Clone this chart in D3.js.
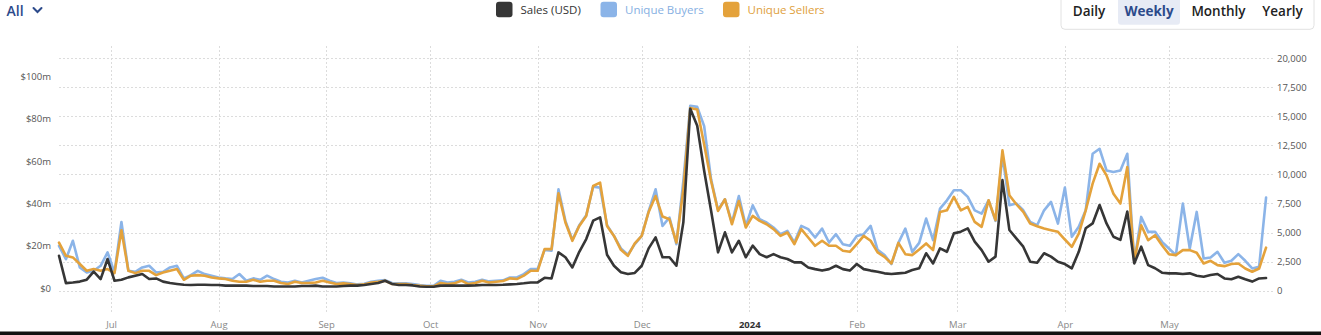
<!DOCTYPE html>
<html>
<head>
<meta charset="utf-8">
<script src="https://cdn.jsdelivr.net/npm/d3@7"></script>
<style>
  body { margin: 0; background: #fff; }
  svg  { display: block; font-family: 'Open Sans', sans-serif; }
</style>
</head>
<body>
<div id="chart"></div>
<script>
'use strict';

//#region data - one reading every second day from startDate
const startDate = new Date(2023, 5, 16);
const stepDays  = 2;

//unique sellers per day
const sellers = [
  4140, 3000, 2860, 2290, 1710, 1860, 1710, 1860, 1510, 5200,
  1710, 1510, 1710, 1710, 1340, 1570, 1710, 1860, 940, 1290,
  1340, 1290, 1140, 1060, 1000, 860, 770, 770, 940, 770,
  860, 860, 660, 570, 770, 660, 660, 710, 860, 710,
  570, 630, 570, 490, 540, 710, 770, 860, 570, 570,
  570, 490, 430, 370, 370, 660, 570, 630, 860, 570,
  660, 860, 710, 770, 830, 1060, 1000, 1290, 1710, 1710,
  3570, 3570, 8370, 5860, 4290, 5570, 6430, 9000, 9290, 5570,
  4710, 3510, 3000, 4060, 4710, 6770, 8140, 6370, 6140, 4140,
  8710, 15700, 15570, 12570, 9430, 6860, 7860, 5710, 7710, 5430,
  6430, 6000, 5710, 5290, 4710, 5000, 4000, 5290, 4570, 3860,
  4290, 3860, 3860, 3430, 3340, 4000, 4710, 4290, 3290, 2910,
  2340, 4110, 3140, 3060, 3540, 4060, 3490, 6770, 6910, 8060,
  6910, 7200, 5910, 5490, 7770, 6060, 12060, 8200, 7430, 6770,
  5770, 5540, 5340, 5200, 5060, 4400, 3770, 4910, 6910, 9200,
  10910, 9910, 8340, 7490, 10630, 2490, 5630, 4340, 4770, 3910,
  3140, 3060, 3490, 3490, 3260, 2340, 2570, 2200, 2110, 2290,
  2340, 1910, 1630, 1910, 3700
];

//unique buyers per day
const buyers = [
  3860, 2710, 4290, 2000, 1570, 1710, 2140, 3290, 1570, 5910,
  1710, 1630, 2000, 2140, 1570, 1630, 2000, 2140, 1060, 1340,
  1710, 1430, 1290, 1140, 1060, 1000, 1430, 860, 1060, 940,
  1290, 1000, 770, 710, 860, 710, 860, 1000, 1110, 860,
  660, 710, 630, 540, 600, 770, 860, 910, 660, 630,
  630, 570, 490, 430, 430, 860, 710, 770, 940, 710,
  770, 940, 800, 860, 890, 1140, 1140, 1430, 1860, 1860,
  3510, 3430, 8710, 6000, 4370, 5630, 6490, 8940, 8860, 5630,
  4710, 3630, 3090, 4000, 4710, 6830, 8710, 5570, 6290, 4000,
  9430, 15900, 15800, 14140, 9570, 6940, 7860, 5860, 8140, 5570,
  7340, 6140, 5860, 5430, 4860, 5140, 4140, 5570, 5290, 4570,
  5340, 4140, 4860, 4000, 3860, 4710, 4860, 5570, 3510, 3060,
  2290, 4110, 5340, 3340, 4110, 6200, 4340, 7060, 7770, 8630,
  8630, 8060, 6910, 6630, 7770, 6000, 11630, 7340, 7490, 6910,
  5910, 5630, 6910, 7630, 5770, 8860, 4630, 5490, 6910, 11770,
  12200, 10340, 10200, 10340, 11770, 2490, 6340, 5060, 5060, 4200,
  3630, 3060, 7490, 3630, 6770, 2770, 2860, 3340, 2400, 2570,
  3140, 2570, 1910, 2060, 8000
];

//sales in millions of USD
const salesM = [
  16.5, 3.6, 3.9, 4.3, 5.2, 9.0, 5.5, 15.0, 4.7, 5.2,
  6.3, 7.1, 7.9, 5.5, 5.8, 4.3, 3.6, 3.2, 2.8, 2.7,
  2.8, 2.8, 2.7, 2.7, 2.4, 2.4, 2.4, 2.4, 2.2, 2.2,
  2.2, 2.0, 2.0, 2.0, 2.0, 2.2, 2.2, 2.4, 2.0, 2.0,
  2.0, 2.2, 2.4, 2.4, 2.7, 3.2, 3.6, 4.7, 3.2, 2.7,
  2.7, 2.5, 2.0, 1.9, 1.9, 2.4, 2.4, 2.4, 2.4, 2.4,
  2.5, 2.7, 2.7, 2.7, 2.8, 3.0, 3.2, 3.5, 3.9, 3.9,
  6.1, 5.8, 18.1, 15.8, 11.0, 18.4, 24.4, 33.1, 34.7, 17.0,
  11.8, 8.7, 7.9, 8.4, 11.8, 20.0, 25.2, 15.8, 15.8, 11.8,
  32.3, 86.0, 78.0, 56.7, 37.8, 18.1, 27.6, 18.1, 23.6, 15.8,
  21.3, 17.3, 15.8, 17.3, 15.8, 15.0, 13.4, 13.4, 11.0, 10.2,
  9.5, 10.2, 11.8, 10.2, 9.5, 12.6, 10.2, 9.5, 9.0, 8.2,
  7.9, 8.2, 8.5, 9.8, 10.6, 17.7, 12.9, 20.0, 18.4, 27.1,
  27.9, 29.5, 23.2, 19.2, 13.7, 16.1, 52.3, 28.7, 24.7, 20.8,
  13.7, 13.2, 17.7, 16.1, 13.7, 12.6, 10.6, 18.4, 29.5, 31.8,
  40.5, 31.8, 25.5, 24.0, 37.4, 12.9, 20.8, 12.1, 10.6, 8.5,
  8.2, 8.2, 7.9, 8.2, 7.1, 6.6, 7.4, 7.9, 5.8, 5.4,
  6.6, 5.4, 4.3, 5.8, 6.0
];

const salesTicks   = [0, 20, 40, 60, 80, 100];     //$m
const countTicks   = [0, 2500, 5000, 7500, 10000, 12500, 15000, 17500, 20000];
const seriesNames  = ['Sales (USD)', 'Unique Buyers', 'Unique Sellers'];
const periods      = ['Daily', 'Weekly', 'Monthly', 'Yearly'];
const activePeriod = 'Weekly';
//#endregion

//#region display variables
const width  = 1321;
const height = 335;
let plot = { left: 59, right: 1273, top: 58, bottom: 290.7 };

const colSales   = '#363636';
const colBuyers  = '#8bb4e8';
const colSellers = '#e4a23b';
const colNavy    = '#2c4a8b';

let svg;
let x, ySales, yCount;     //scale functions
let dates = [];
//#endregion

initialise();

function initialise() {
  d3.selectAll('svg').remove();
  svg = d3.select('#chart').append('svg').attr('width', width).attr('height', height);

  dates = sellers.map(function(v, i) { return d3.timeDay.offset(startDate, i * stepDays); });

  setupDisplay();
  drawLines();
  drawLegend();
  drawControls();
}

function setupDisplay() {
  x = d3.scaleTime().domain([new Date(2023, 5, 16), new Date(2024, 4, 31)]).range([plot.left, plot.right]);
  ySales = d3.scaleLinear().domain([0, 110]).range([plot.bottom, plot.top]);
  yCount = d3.scaleLinear().domain([0, 20000]).range([plot.bottom, plot.top]);

  let months = d3.timeMonth.range(new Date(2023, 6, 1), new Date(2024, 5, 1));

  //dotted grid
  let grid = svg.append('g').attr('class', 'grid')
    .attr('stroke', '#dcdcdc').attr('stroke-width', 1).attr('stroke-dasharray', '2,2');

  grid.selectAll('.hgrid').data(countTicks).enter().append('line')
    .attr('x1', plot.left).attr('x2', plot.right)
    .attr('y1', function(d) { return Math.round(yCount(d)) + 0.5; })
    .attr('y2', function(d) { return Math.round(yCount(d)) + 0.5; });

  grid.selectAll('.vgrid').data(months).enter().append('line')
    .attr('x1', function(d) { return Math.round(x(d)) + 0.5; })
    .attr('x2', function(d) { return Math.round(x(d)) + 0.5; })
    .attr('y1', 46).attr('y2', 313);

  //left axis - sales
  let leftAxis = d3.axisLeft(ySales).tickValues(salesTicks).tickSize(0).tickPadding(0)
    .tickFormat(function(d) { return d === 0 ? '$0' : '$' + d + 'm'; });
  let gl = svg.append('g').attr('class', 'leftaxis').attr('transform', 'translate(51, 0)').call(leftAxis);

  //right axis - counts
  let rightAxis = d3.axisRight(yCount).tickValues(countTicks).tickSize(0).tickPadding(0)
    .tickFormat(d3.format(','));
  let gr = svg.append('g').attr('class', 'rightaxis').attr('transform', 'translate(1277, 0)').call(rightAxis);

  //bottom axis - months, the year shown in January
  let bottomAxis = d3.axisBottom(x).tickValues(months).tickSize(0).tickPadding(0)
    .tickFormat(function(d) { return d.getMonth() === 0 ? d3.timeFormat('%Y')(d) : d3.timeFormat('%b')(d); });
  let gb = svg.append('g').attr('class', 'bottomaxis').attr('transform', 'translate(0, 325)').call(bottomAxis);

  [gl, gr, gb].forEach(function(g) {
    g.select('.domain').remove();
    g.selectAll('text').attr('fill', '#555').style('font-size', '9.5px').style('font-family', "'Open Sans', sans-serif");
  });
  gl.selectAll('text').attr('dy', '0.05em');
  gb.selectAll('text').attr('dy', '0.35em').attr('fill', '#888');
  gb.selectAll('text').filter(function(d) { return d.getMonth() === 0; })
    .attr('fill', '#333').style('font-weight', '700');

  //strip along the bottom edge
  svg.append('rect').attr('x', 0).attr('y', 331.5).attr('width', width).attr('height', 3.5).attr('fill', '#111');
}

function drawLines() {
  let lineCount = d3.line()
    .x(function(d, i) { return x(dates[i]); })
    .y(function(d) { return yCount(d); });

  let lineSales = d3.line()
    .x(function(d, i) { return x(dates[i]); })
    .y(function(d) { return ySales(d); });

  let g = svg.append('g').attr('class', 'lines').attr('fill', 'none')
    .attr('stroke-width', 2.6).attr('stroke-linejoin', 'round').attr('stroke-linecap', 'round');

  g.append('path').attr('class', 'buyers').attr('stroke', colBuyers).attr('d', lineCount(buyers));
  g.append('path').attr('class', 'sellers').attr('stroke', colSellers).attr('d', lineCount(sellers));
  g.append('path').attr('class', 'sales').attr('stroke', colSales).attr('d', lineSales(salesM));
}

function drawLegend() {
  let colours = [colSales, colBuyers, colSellers];
  let textColours = ['#333', '#86afe2', '#e0a03c'];
  let boxX = [496, 600.5, 723];

  let g = svg.append('g').attr('class', 'legend');
  seriesNames.forEach(function(name, i) {
    g.append('rect').attr('x', boxX[i]).attr('y', 1.7).attr('width', 16.5).attr('height', 15.6)
      .attr('rx', 3).attr('fill', colours[i]);
    g.append('text').attr('x', boxX[i] + 24.5).attr('y', 14).text(name)
      .attr('fill', textColours[i]).style('font-size', '11.5px');
  });
}

function drawControls() {
  //"All" dropdown
  svg.append('text').attr('x', 6.5).attr('y', 15.5).text('All')
    .attr('fill', colNavy).style('font-size', '14px').style('font-weight', '600');
  svg.append('path').attr('d', 'M33.5,8 L37.5,12 L41.5,8')
    .attr('fill', 'none').attr('stroke', colNavy).attr('stroke-width', 2).attr('stroke-linecap', 'round');

  //period buttons
  let g = svg.append('g').attr('class', 'periods');
  g.append('rect').attr('x', 1061).attr('y', -6).attr('width', 253).attr('height', 35.3).attr('rx', 4)
    .attr('fill', '#fff').attr('stroke', '#e2e2e2');

  let centres = [1089, 1149, 1218.5, 1282.5];
  periods.forEach(function(p, i) {
    let active = p === activePeriod;
    if (active) {
      g.append('rect').attr('x', 1118).attr('y', -4).attr('width', 62).attr('height', 28.7).attr('rx', 3)
        .attr('fill', '#e7ebf5');
    }
    g.append('text').attr('x', centres[i]).attr('y', 16).attr('text-anchor', 'middle').text(p)
      .attr('fill', active ? colNavy : '#222')
      .style('font-size', '13.5px').style('font-weight', active ? '700' : '600');
  });
}
</script>
</body>
</html>
